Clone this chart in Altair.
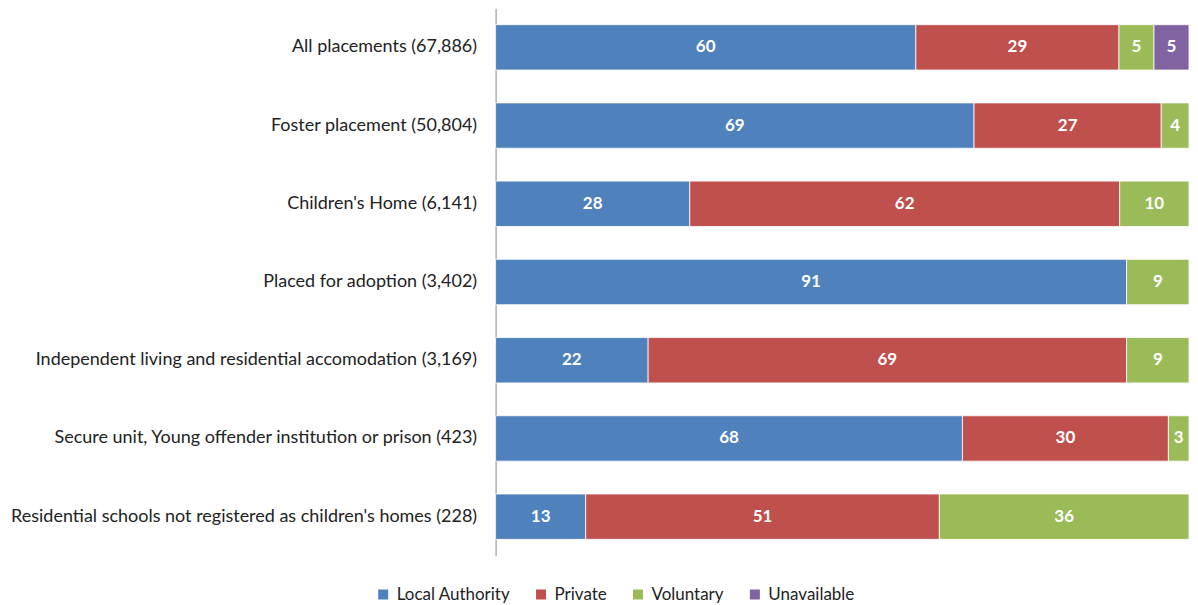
import altair as alt
import pandas as pd

categories = [
    "All placements (67,886)",
    "Foster placement (50,804)",
    "Children's Home (6,141)",
    "Placed for adoption (3,402)",
    "Independent living and residential accomodation (3,169)",
    "Secure unit, Young offender institution or prison (423)",
    "Residential schools not registered as children's homes (228)",
]
series = ["Local Authority", "Private", "Voluntary", "Unavailable"]
colors = ["#4F81BD", "#C0504D", "#9BBB59", "#8064A2"]

local_authority = [60, 69, 28, 91, 22, 68, 13]
private = [29, 27, 62, 0, 69, 30, 51]
voluntary = [5, 4, 10, 9, 9, 3, 36]
unavailable = [5, 0, 0, 0, 0, 0, 0]

rows = []
for i, c in enumerate(categories):
    for j, (s, vals) in enumerate(zip(series, [local_authority, private, voluntary, unavailable])):
        rows.append({"category": c, "series": s, "order": j, "value": vals[i]})
df = pd.DataFrame(rows)

FONT = "Lato"

base = alt.Chart(df).transform_filter("datum.value > 0")

y_enc = alt.Y(
    "category:N",
    sort=categories,
    title=None,
    scale=alt.Scale(paddingInner=0.42, paddingOuter=0.21),
    axis=alt.Axis(
        ticks=False,
        labelPadding=19,
        labelFont=FONT,
        labelFontSize=18,
        labelColor="#222222",
        labelLimit=600,
        domainColor="#888888",
        minExtent=488,
        maxExtent=488,
    ),
)

bars = base.mark_bar(stroke="white", strokeWidth=0.8).encode(
    x=alt.X("value:Q", stack="normalize", axis=None, scale=alt.Scale(domain=[0, 1], nice=False)),
    y=y_enc,
    color=alt.Color(
        "series:N",
        sort=series,
        scale=alt.Scale(domain=series, range=colors),
        legend=alt.Legend(
            title=None,
            orient="none",
            direction="horizontal",
            legendX=-121,
            legendY=578,
            symbolType="square",
            symbolSize=100,
            symbolStrokeWidth=0,
            labelFont=FONT,
            labelFontSize=17,
            labelColor="#222222",
            columnPadding=22,
            labelOffset=5,
        ),
    ),
    order=alt.Order("order:Q"),
)

labels = base.transform_stack(
    stack="value", groupby=["category"], as_=["x0", "x1"], offset="normalize",
    sort=[alt.SortField("order", order="ascending")],
).transform_calculate(
    mid="(datum.x0 + datum.x1) / 2"
).mark_text(
    color="white", font=FONT, fontSize=17, fontWeight="bold"
).encode(
    x=alt.X("mid:Q", scale=alt.Scale(domain=[0, 1], nice=False), axis=None),
    y=alt.Y("category:N", sort=categories),
    text=alt.Text("value:Q"),
)

chart = (bars + labels).properties(
    width=694, height=548,
    padding={"left": 0, "top": 0, "right": 0, "bottom": 0},
).configure_view(stroke=None)

chart.save("out.html", embed_options={"renderer": "svg", "actions": False})
